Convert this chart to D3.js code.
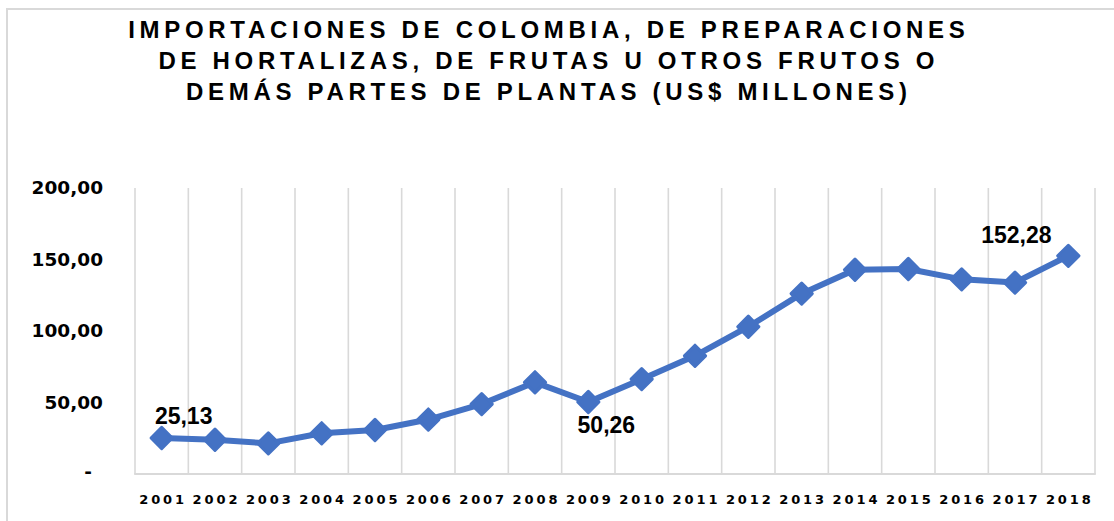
<!DOCTYPE html>
<html>
<head>
<meta charset="utf-8">
<script src="https://cdn.jsdelivr.net/npm/d3@7"></script>
<style>
  html, body { margin: 0; padding: 0; background: #fff; }
  svg { display: block; }
  .ytick { font-family: "DejaVu Sans", sans-serif; font-weight: bold; font-size: 18.5px; letter-spacing: 0px; }
  .xtick { font-family: "DejaVu Sans", sans-serif; font-weight: bold; font-size: 13px; letter-spacing: 2.9px; }
</style>
</head>
<body>
<svg id="chart" width="1114" height="521"></svg>
<script>
// ---- data ----
const titleLines = [
  "IMPORTACIONES DE COLOMBIA, DE PREPARACIONES",
  "DE HORTALIZAS, DE FRUTAS U OTROS FRUTOS O",
  "DEMÁS PARTES DE PLANTAS (US$ MILLONES)"
];
const years = ["2001","2002","2003","2004","2005","2006","2007","2008","2009",
               "2010","2011","2012","2013","2014","2015","2016","2017","2018"];
const values = [25.13, 23.9, 21.4, 28.4, 30.7, 38.0, 48.8, 64.0, 50.26,
                66.2, 82.5, 102.8, 125.9, 142.6, 143.1, 135.9, 133.6, 152.28];
const yTicks = [0, 50, 100, 150, 200];
const labelledYears = ["2001", "2009", "2018"];

// ---- layout / style ----
const W = 1114, H = 521;
const plot = { left: 135, right: 1095, top: 187.5, bottom: 474 };
const lineColor = "#4472C4";
const gridColor = "#d9d9d9";
const labelOffsets = { "2001": [22, -14], "2009": [18, 31], "2018": [-52, -12.5] };

const svg = d3.select("#chart");
svg.append("rect").attr("width", W).attr("height", H).attr("fill", "#fff");
// outer frame (cropped at right/bottom)
svg.append("rect").attr("x", 7).attr("y", 9).attr("width", W + 20).attr("height", H + 20)
  .attr("fill", "none").attr("stroke", gridColor).attr("stroke-width", 2);

// title
const titleG = svg.append("g");
titleLines.forEach((t, i) => {
  titleG.append("text")
    .attr("x", 546.5 + 2.35).attr("y", 38 + i * 31)
    .attr("text-anchor", "middle")
    .style("font-family", "'Liberation Sans', Arial, sans-serif")
    .style("font-weight", "bold").style("font-size", "24px")
    .style("letter-spacing", "4.7px")
    .attr("fill", "#000")
    .text(t);
});

const locale = d3.formatLocale({ decimal: ",", thousands: ".", grouping: [3], currency: ["$", ""] });
const fmt = locale.format(".2f");

const x = d3.scaleBand().domain(years).range([plot.left, plot.right]).padding(0);
const y = d3.scaleLinear().domain([0, 200]).range([plot.bottom, plot.top]);
const cx = d => x(d) + x.bandwidth() / 2;

// vertical gridlines at category boundaries
const edges = years.map(d => x(d)).concat([x(years[years.length - 1]) + x.bandwidth()]);
svg.append("g").selectAll("line").data(edges).join("line")
  .attr("x1", d => d).attr("x2", d => d)
  .attr("y1", y(200) + 0.5).attr("y2", plot.bottom)
  .attr("stroke", gridColor).attr("stroke-width", 1.6);

// bottom axis line
svg.append("line").attr("x1", plot.left - 0.8).attr("x2", plot.right + 0.8)
  .attr("y1", plot.bottom).attr("y2", plot.bottom)
  .attr("stroke", gridColor).attr("stroke-width", 1.8);

// y axis
const yAxis = svg.append("g").attr("transform", `translate(${plot.left},0)`)
  .call(d3.axisLeft(y).tickValues(yTicks).tickSize(0).tickPadding(32)
        .tickFormat(d => d === 0 ? "-" : fmt(d)));
yAxis.select(".domain").remove();
yAxis.attr("font-family", null).attr("font-size", null);
yAxis.selectAll("text")
  .attr("class", "ytick")
  .attr("fill", "#000")
  .filter(d => d === 0).attr("x", -43).attr("dy", "0.2em");

// x axis
const xAxis = svg.append("g").attr("transform", `translate(0,${plot.bottom})`)
  .call(d3.axisBottom(x).tickSize(0));
xAxis.select(".domain").remove();
xAxis.attr("font-family", null).attr("font-size", null);
xAxis.selectAll("text")
  .attr("class", "xtick")
  .attr("y", 30).attr("dy", 0).attr("x", 1.45)
  .attr("fill", "#000");

// line
const data = years.map((yr, i) => ({ year: yr, value: values[i] }));
svg.append("path").datum(data)
  .attr("fill", "none").attr("stroke", lineColor).attr("stroke-width", 6)
  .attr("stroke-linejoin", "round").attr("stroke-linecap", "round")
  .attr("d", d3.line().x(d => cx(d.year)).y(d => y(d.value)));

// diamond markers
const sym = d3.symbol().type(d3.symbolSquare).size(225);
svg.append("g").selectAll("path").data(data).join("path")
  .attr("d", sym)
  .attr("transform", d => `translate(${cx(d.year)},${y(d.value)}) rotate(45)`)
  .attr("fill", lineColor).attr("stroke", lineColor).attr("stroke-width", 3)
  .attr("stroke-linejoin", "round");

// data labels
svg.append("g").selectAll("text").data(data.filter(d => labelledYears.includes(d.year))).join("text")
  .attr("x", d => cx(d.year) + labelOffsets[d.year][0])
  .attr("y", d => y(d.value) + labelOffsets[d.year][1])
  .attr("text-anchor", "middle")
  .style("font-family", "'Liberation Sans', Arial, sans-serif")
  .style("font-weight", "bold").style("font-size", "23px")
  .attr("fill", "#000")
  .text(d => fmt(d.value));
</script>
</body>
</html>
